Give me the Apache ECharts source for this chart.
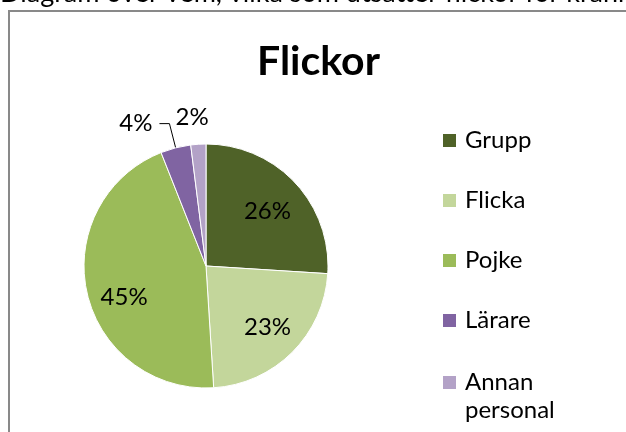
<!DOCTYPE html>
<html>
<head>
<meta charset="utf-8">
<script src="https://cdn.jsdelivr.net/npm/echarts@6/dist/echarts.min.js"></script>
<style>
  html, body { margin: 0; padding: 0; background: #fff; }
  #main { width: 626px; height: 432px; }
</style>
</head>
<body>
<div id="main"></div>
<script>
// data (percent)
const categories = ["Grupp", "Flicka", "Pojke", "Lärare", "Annan personal"];
const values = [26, 23, 45, 4, 2];
const colors = ["#4F6228", "#C3D69B", "#9BBB59", "#8064A2", "#B3A2C7"];

const FONT = "Lato";
let myChart = echarts.init(document.getElementById("main"));

// main pie: slices + outside labels for the small slices
const mainData = categories.map((name, i) => {
  const item = { name: name, value: values[i], itemStyle: { color: colors[i] } };
  if (i < 3) {
    item.label = { show: false };
    item.labelLine = { show: false };
  } else if (i === 3) {
    item.label = { show: true, padding: [0, 0, 13, 0], distanceToLabelLine: 7 };
    item.labelLine = { show: true, length: 25, length2: 10 };
  } else {
    item.label = { show: true, distanceToLabelLine: -12 };
    item.labelLine = { show: false, length: 27, length2: 0 };
  }
  return item;
});

// transparent ring, only used to place the inside labels a bit further out
const labelData = categories.map((name, i) => ({
  name: name,
  value: values[i],
  label: { show: i < 3 }
}));

myChart.setOption({
  animation: false,
  backgroundColor: "#fff",
  title: {
    text: "Flickor",
    left: 257,
    top: 40,
    padding: 0,
    textStyle: { fontFamily: FONT, fontSize: 41, fontWeight: "bold", color: "#000", lineHeight: 44 }
  },
  graphic: [
    {
      type: "text",
      left: 0,
      top: -20,
      silent: true,
      style: {
        text: "Diagram över vem, vilka som utsätter flickor för kränkningar",
        font: "27px " + FONT,
        fill: "#000"
      }
    },
    {
      type: "rect",
      silent: true,
      shape: { x: 9, y: 11, width: 700, height: 500 },
      style: { fill: "none", stroke: "#898989", lineWidth: 2 }
    }
  ],
  legend: [
    {
      orient: "vertical",
      left: 443,
      top: 127,
      padding: 0,
      itemWidth: 13,
      itemHeight: 13,
      itemGap: 33,
      icon: "rect",
      itemStyle: { borderWidth: 0 },
      textStyle: { fontFamily: FONT, fontSize: 24, color: "#000", lineHeight: 27, padding: [0, 0, 0, 4] },
      data: categories.slice(0, 4)
    },
    {
      // two-line entry: square sits at the top of a taller icon box
      orient: "vertical",
      left: 443,
      top: 368,
      padding: 0,
      itemWidth: 13,
      itemHeight: 40,
      icon: "path://M0,0L13,0L13,13L0,13Z M0,40L13,40",
      itemStyle: { borderWidth: 0 },
      formatter: (name) => name.replace(" ", "\n"),
      textStyle: { fontFamily: FONT, fontSize: 24, color: "#000", lineHeight: 28, padding: [0, 0, 0, 4] },
      data: categories.slice(4)
    }
  ],
  series: [
    {
      name: "Flickor",
      type: "pie",
      center: [206, 266],
      radius: 122,
      startAngle: 90,
      clockwise: true,
      avoidLabelOverlap: false,
      percentPrecision: 0,
      emphasis: { disabled: true },
      itemStyle: { borderColor: "#fff", borderWidth: 1 },
      label: {
        position: "outside",
        formatter: "{d}%",
        fontFamily: FONT,
        fontSize: 24,
        color: "#000"
      },
      labelLine: { lineStyle: { color: "#000", width: 1 } },
      data: mainData
    },
    {
      name: "labels",
      type: "pie",
      center: [206, 266],
      radius: [46, 122],
      startAngle: 90,
      clockwise: true,
      silent: true,
      percentPrecision: 0,
      emphasis: { disabled: true },
      itemStyle: { color: "rgba(0,0,0,0)", borderWidth: 0 },
      label: {
        position: "inside",
        formatter: "{d}%",
        fontFamily: FONT,
        fontSize: 24,
        color: "#000"
      },
      labelLine: { show: false },
      labelLayout: function (params) {
        if (params.dataIndex === 0) return { dx: -2, dy: 5 };
        if (params.dataIndex === 2) return { dx: 3, dy: 12 };
      },
      data: labelData
    }
  ]
});
</script>
</body>
</html>
